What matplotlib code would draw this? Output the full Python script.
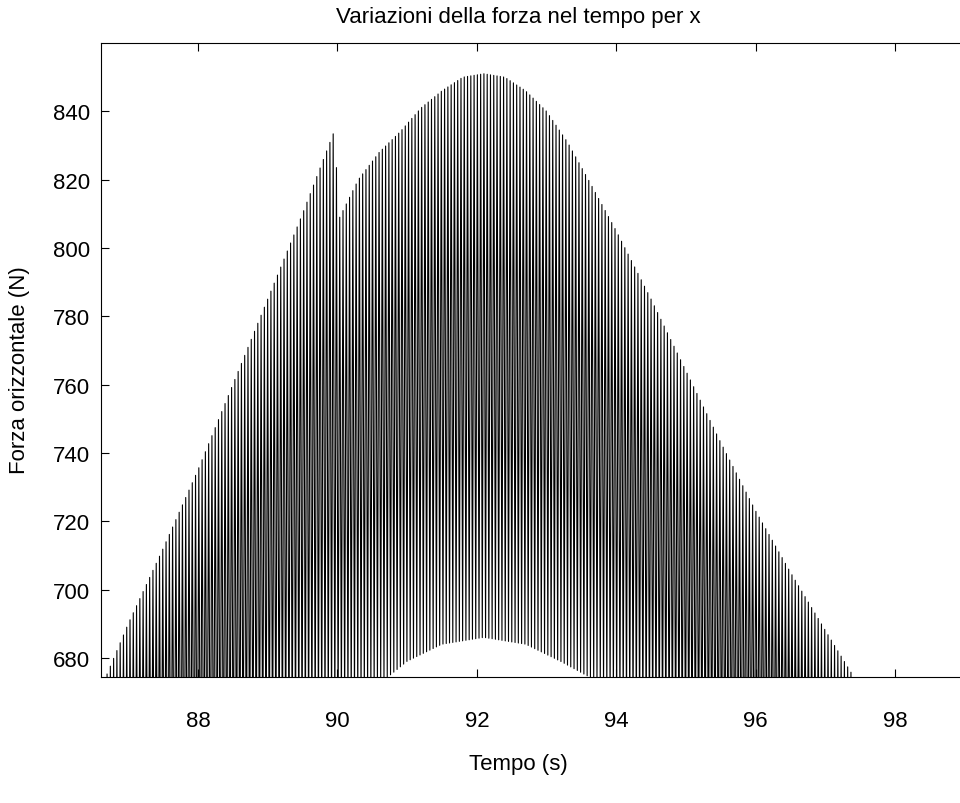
import numpy as np
import matplotlib
matplotlib.use("Agg")
import matplotlib.pyplot as plt

plt.rcParams['font.family'] = ['Liberation Sans', 'DejaVu Sans']

# envelope of the oscillating force
t_top = [86.65, 87.0, 87.5, 88.0, 88.5, 89.0, 89.5, 89.97,
         90.01, 90.3, 90.6, 90.9, 91.2, 91.5, 91.8, 92.1, 92.4, 92.7,
         93.0, 93.3, 93.6, 94.0, 94.5, 95.0, 95.5, 96.0, 96.5, 97.0, 97.45]
f_top = [673, 690, 712, 735, 760, 785, 810, 835,
         808, 820, 828, 834, 841, 846, 850, 851, 850, 846,
         840, 831, 820, 805, 785, 764, 743, 723, 705, 688, 673]
t_bot = [86.65, 88.0, 89.0, 90.0, 90.7, 91.0, 91.5, 92.1, 92.7, 93.2,
         93.65, 94.5, 96.0, 97.5]
f_bot = [600, 620, 640, 662, 674, 679, 684, 686, 684, 679,
         674, 655, 630, 600]
spike_dt = 0.047

title = "Variazioni della forza nel tempo per x"
xlab = "Tempo (s)"
ylab = "Forza orizzontale (N)"
xticks = [88, 90, 92, 94, 96, 98]
yticks = [680, 700, 720, 740, 760, 780, 800, 820, 840]

# build the spike train: up at each step, down half a step later
tk = np.arange(t_top[0], t_top[-1] + 0.01, spike_dt)
t = np.empty(2 * len(tk))
f = np.empty(2 * len(tk))
t[0::2] = tk
t[1::2] = tk + spike_dt / 2
f[0::2] = np.interp(tk, t_top, f_top)
f[1::2] = np.interp(tk + spike_dt / 2, t_bot, f_bot)

fig = plt.figure(figsize=(9.6, 8.04), dpi=100)
ax = fig.add_axes([101/960, 126/804, 859/960, 634/804])
ax.plot(t, f, color='black', lw=0.8)
ax.set_xlim(86.61, 98.93)
ax.set_ylim(674.4, 860)
ax.set_xticks(xticks)
ax.set_yticks(yticks)
ax.tick_params(direction='in', top=True, right=False, length=6,
               labelsize=16)
ax.tick_params(axis='x', pad=24)
ax.tick_params(axis='y', pad=8)
ax.spines['right'].set_visible(False)
for s in ax.spines.values():
    s.set_linewidth(0.8)

fig.text(518/960, 1 - 18/804, title, ha='center', va='center', fontsize=16)
fig.text(518/960, 1 - 765/804, xlab, ha='center', va='center', fontsize=16)
fig.text(20/960, 1 - 370/804, ylab, ha='center', va='center',
         rotation=90, fontsize=16)

fig.savefig("out.png", dpi=100)
